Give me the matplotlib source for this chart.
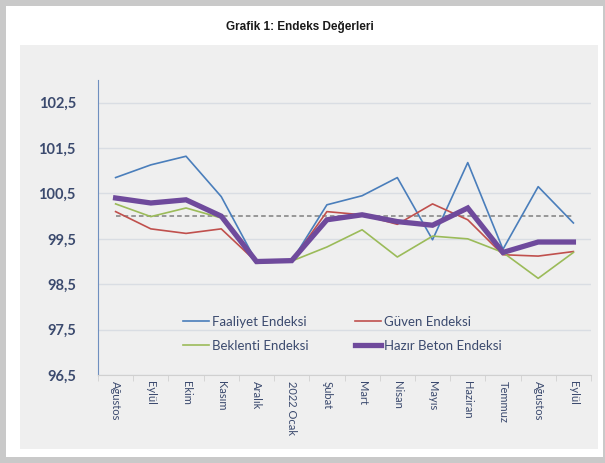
import matplotlib
matplotlib.use("Agg")
import matplotlib.pyplot as plt
from matplotlib.patches import Rectangle
import numpy as np

months = ["Ağustos", "Eylül", "Ekim", "Kasım", "Aralık", "2022 Ocak", "Şubat",
          "Mart", "Nisan", "Mayıs", "Haziran", "Temmuz", "Ağustos", "Eylül"]
faaliyet = [100.85, 101.13, 101.32, 100.43, 98.99, 99.01, 100.25,
            100.45, 100.85, 99.48, 101.18, 99.27, 100.65, 99.85]
guven = [100.10, 99.72, 99.62, 99.72, 98.99, 99.01, 100.10,
         100.03, 99.82, 100.27, 99.92, 99.15, 99.12, 99.22]
beklenti = [100.27, 99.99, 100.18, 99.96, 98.96, 99.01, 99.32,
            99.70, 99.10, 99.56, 99.50, 99.20, 98.63, 99.20]
hazir_beton = [100.40, 100.29, 100.36, 100.00, 99.00, 99.02, 99.92,
               100.03, 99.88, 99.80, 100.18, 99.20, 99.43, 99.43]
esik = [100.0] * len(months)

txt_col = "#3b4a6e"
W, H = 605, 463

fig = plt.figure(figsize=(W / 100, H / 100), dpi=100)
fig.patch.set_facecolor("#c9c9c9")


def px_rect(x0, y0, x1, y1, color):
    # rectangle in pixel coords, origin top-left
    fig.patches.append(Rectangle((x0 / W, 1 - y1 / H), (x1 - x0) / W, (y1 - y0) / H,
                                 transform=fig.transFigure, facecolor=color,
                                 edgecolor="none", zorder=-10))


px_rect(6, 6, 603, 457, "white")
px_rect(20, 45, 598, 449, "#efefef")

fig.text(300 / W, 1 - 27 / H, "Grafik 1: Endeks Değerleri", ha="center", va="center",
         fontsize=8.5, fontweight="bold", family="Liberation Sans", color="#1a1a1a")

ax = fig.add_axes([98 / W, 88 / H, 493 / W, 295 / H])
ax.set_facecolor("#efefef")
x = np.arange(len(months))

ax.plot(x, esik, color="#7f7f7f", lw=1.1, ls=(0, (3, 2)), zorder=2)
l1, = ax.plot(x, faaliyet, color="#4a7ebb", lw=1.2, label="Faaliyet Endeksi", zorder=3)
l2, = ax.plot(x, guven, color="#c0504d", lw=1.2, label="Güven Endeksi", zorder=3)
l3, = ax.plot(x, beklenti, color="#9bbb59", lw=1.2, label="Beklenti Endeksi", zorder=3)
l4, = ax.plot(x, hazir_beton, color="#6f4a9c", lw=3.8, label="Hazır Beton Endeksi",
              zorder=4, solid_joinstyle="miter")

ax.set_xlim(-0.5, len(months) - 0.5)
ax.set_ylim(96.5, 103)
yt = np.arange(96.5, 103, 1.0)
ax.set_yticks(yt)
ax.set_yticklabels([f"{v:.1f}".replace(".", ",") for v in yt])
ax.yaxis.grid(True, color="#d9dde3", lw=1)
ax.set_axisbelow(True)
ax.set_xticks(x)
ax.set_xticklabels(months, rotation=270, fontsize=8, family="Lato", color=txt_col)
ax.set_xticks(np.arange(-0.5, len(months), 1), minor=True)
ax.tick_params(axis="x", which="major", length=0, pad=4)
ax.tick_params(axis="x", which="minor", length=4, color="#d0d0d0")
ax.tick_params(axis="y", length=0, pad=16, labelsize=10.5, labelcolor=txt_col)
for lab in ax.get_yticklabels():
    lab.set_fontweight("bold")
    lab.set_family("Lato")

for s in ["top", "right"]:
    ax.spines[s].set_visible(False)
ax.spines["left"].set_color("#6f8fbf")
ax.spines["bottom"].set_color("#d0d0d0")

leg = fig.legend([l1, l3, l2, l4],
                 ["Faaliyet Endeksi", "Beklenti Endeksi", "Güven Endeksi", "Hazır Beton Endeksi"],
                 ncol=2, loc="upper left", bbox_to_anchor=(183 / W, 1 - 316 / H),
                 frameon=False, borderpad=0, borderaxespad=0, handlelength=2.0,
                 handletextpad=0.2, columnspacing=3.5, labelspacing=0.9,
                 prop={"family": "Lato", "size": 9.5})
for t in leg.get_texts():
    t.set_color(txt_col)

fig.savefig("out.png", dpi=100, facecolor=fig.get_facecolor())
